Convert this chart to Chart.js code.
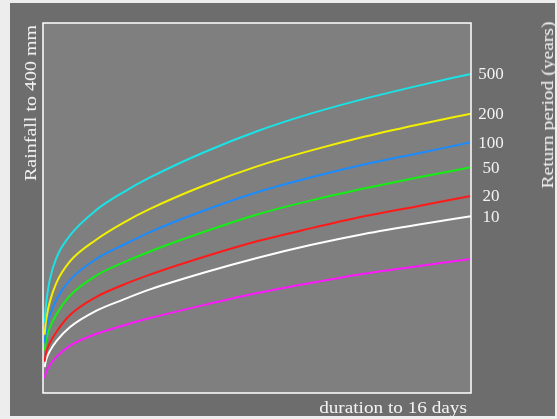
<!DOCTYPE html>
<html>
<head>
<meta charset="utf-8">
<script src="https://cdn.jsdelivr.net/npm/chart.js@4/dist/chart.umd.min.js"></script>
<style>
  html, body { margin: 0; padding: 0; background: #ededed; }
  #wrap { position: relative; width: 557px; height: 419px; overflow: hidden; }
  canvas { position: absolute; left: 0; top: 0; }
  .t { position: absolute; font-family: "Liberation Serif", "Times New Roman", serif; color: #f4f4f4; white-space: nowrap; line-height: 1; }
</style>
</head>
<body>
<div id="wrap">
  <canvas id="c" width="557" height="419"></canvas>
  <div class="t" id="ytitle">Rainfall to 400 mm</div>
  <div class="t" id="rtitle">Return period (years)</div>
  <div class="t" id="xtitle">duration to 16 days</div>
</div>
<script>
// durations (days)
const durations = [0.06, 0.1, 0.15, 0.25, 0.5, 1, 2, 3, 4, 6, 8, 10, 12, 14, 16];
// rainfall (mm) for each return period
const rp500 = [76, 92, 104, 122, 146, 170, 198, 217, 233, 260, 283, 302, 318, 332, 345];
const rp200 = [63, 75, 85, 98, 119, 142, 166, 184, 199, 224, 245, 262, 277, 290, 302];
const rp100 = [54, 64, 72, 83, 101, 122, 145, 160, 174, 197, 217, 233, 247, 259, 271];
const rp50  = [46, 54, 61, 70, 85, 105, 127, 141, 153, 174, 193, 208, 221, 233, 244];
const rp20  = [34, 41, 47, 54, 66, 84, 104, 117, 128, 147, 164, 178, 191, 202, 213];
const rp10  = [28, 34, 39, 45, 56, 71, 89, 101, 112, 130, 146, 160, 172, 182, 191];
const rpLow = [16, 21, 25, 30, 39, 51, 64, 73, 81, 95, 108, 119, 129, 137, 145];
const seriesLabels = ["500", "200", "100", "50", "20", "10", ""];
const seriesValues = [rp500, rp200, rp100, rp50, rp20, rp10, rpLow];
const seriesColors = ["#19e3e6", "#f2f000", "#1a8cff", "#14ee14", "#ff1a1a", "#ffffff", "#ff19ff"];
const xMax = 16, yMax = 400;

const datasets = seriesValues.map((vals, i) => ({
  label: seriesLabels[i],
  data: vals.map((v, j) => ({ x: durations[j], y: v })),
  borderColor: seriesColors[i],
  borderWidth: 2,
  pointRadius: 0,
  fill: false,
  cubicInterpolationMode: 'monotone'
}));

const framePlugin = {
  id: 'frame',
  beforeDraw(chart) {
    const ctx = chart.ctx, a = chart.chartArea;
    ctx.save();
    ctx.fillStyle = '#ededed';
    ctx.fillRect(0, 0, chart.width, chart.height);
    ctx.fillStyle = '#6d6d6d';
    ctx.fillRect(10, 3, 545, 413);
    ctx.fillStyle = '#7f7f7f';
    ctx.fillRect(a.left, a.top, a.right - a.left, a.bottom - a.top);
    ctx.restore();
  },
  afterDraw(chart) {
    const ctx = chart.ctx, a = chart.chartArea;
    ctx.save();
    ctx.strokeStyle = '#ffffff';
    ctx.lineWidth = 1.5;
    ctx.strokeRect(a.left, a.top, a.right - a.left, a.bottom - a.top);
    ctx.fillStyle = '#f2f2f2';
    ctx.font = '17px "Liberation Serif", serif';
    ctx.textAlign = 'center';
    ctx.textBaseline = 'middle';
    chart.data.datasets.forEach((ds, i) => {
      if (!ds.label) return;
      const meta = chart.getDatasetMeta(i);
      const p = meta.data[meta.data.length - 1];
      ctx.fillText(ds.label, p.x + 20, p.y + 1);
    });
    ctx.restore();
  }
};

new Chart(document.getElementById('c'), {
  type: 'line',
  data: { datasets },
  options: {
    responsive: false,
    animation: false,
    layout: { padding: { left: 43, top: 23, right: 86, bottom: 26 } },
    plugins: { legend: { display: false }, tooltip: { enabled: false }, title: { display: false } },
    scales: {
      x: { type: 'linear', min: 0, max: xMax, display: false },
      y: { type: 'linear', min: 0, max: yMax, display: false }
    }
  },
  plugins: [framePlugin]
});

// axis titles
function place(el, opts) { Object.assign(el.style, opts); }
place(document.getElementById('ytitle'), { fontSize: '16px', left: '31px', top: '103px', transform: 'translate(-50%,-50%) rotate(-90deg) scaleX(1.25)', transformOrigin: 'center' });
place(document.getElementById('rtitle'), { fontSize: '16px', left: '548px', top: '105px', transform: 'translate(-50%,-50%) rotate(-90deg) scaleX(1.22)', transformOrigin: 'center' });
place(document.getElementById('xtitle'), { fontSize: '16px', left: '393px', top: '408px', transform: 'translate(-50%,-50%) scaleX(1.2)', transformOrigin: 'center' });
</script>
</body>
</html>
